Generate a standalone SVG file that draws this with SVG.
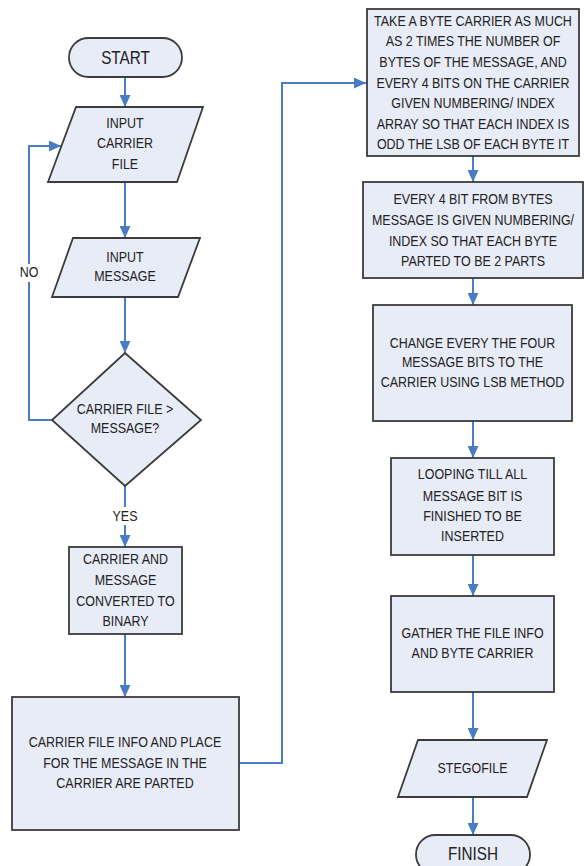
<svg xmlns="http://www.w3.org/2000/svg" width="584" height="866" viewBox="0 0 584 866">
  <defs>
    <style>
      .shape { fill: #e8ecf7; stroke: #3c3c3c; stroke-width: 1.8; }
      .conn { fill: none; stroke: #4a7cc4; stroke-width: 2; }
      .t { font-family: "Liberation Sans", Arial, sans-serif; font-size: 14px; fill: #222; text-anchor: middle; }
      .big { font-size: 18px; }
      .lbl-bg { fill: #ffffff; }
    </style>
    <marker id="arrow" markerUnits="userSpaceOnUse" markerWidth="12" markerHeight="11" refX="12" refY="5.5" orient="auto">
      <path d="M0,0 L12,5.5 L0,11 z" fill="#4a7cc4"/>
    </marker>
  </defs>

  <rect width="584" height="866" fill="#ffffff"/>

  <!-- connectors -->
  <g id="connectors">
    <line class="conn" x1="125" y1="77" x2="125" y2="107" marker-end="url(#arrow)"/>
    <line class="conn" x1="125" y1="182" x2="125" y2="238" marker-end="url(#arrow)"/>
    <line class="conn" x1="125" y1="297" x2="125" y2="353" marker-end="url(#arrow)"/>
    <polyline class="conn" points="52,420 29,420 29,146 61,146" marker-end="url(#arrow)"/>
    <line class="conn" x1="125" y1="486" x2="125" y2="547" marker-end="url(#arrow)"/>
    <line class="conn" x1="125" y1="634" x2="125" y2="697" marker-end="url(#arrow)"/>
    <polyline class="conn" points="239,763 282,763 282,83 366,83" marker-end="url(#arrow)"/>
    <line class="conn" x1="473" y1="156" x2="473" y2="182" marker-end="url(#arrow)"/>
    <line class="conn" x1="473" y1="278" x2="473" y2="305" marker-end="url(#arrow)"/>
    <line class="conn" x1="473" y1="421" x2="473" y2="458" marker-end="url(#arrow)"/>
    <line class="conn" x1="473" y1="555" x2="473" y2="596" marker-end="url(#arrow)"/>
    <line class="conn" x1="473" y1="692" x2="473" y2="740" marker-end="url(#arrow)"/>
    <line class="conn" x1="473" y1="797" x2="473" y2="835" marker-end="url(#arrow)"/>
    <!-- branch labels -->
    <rect class="lbl-bg" x="18" y="264" width="22" height="18"/>
    <g transform="translate(29 0) scale(0.89 1)"><text class="t" x="0" y="277">NO</text></g>
    <rect class="lbl-bg" x="110" y="507" width="30" height="18"/>
    <g transform="translate(125 0) scale(0.89 1)"><text class="t" x="0" y="521">YES</text></g>
  </g>

  <g id="start">
    <rect class="shape" x="69" y="38" width="113" height="39" rx="19.5"/>
    <g transform="translate(125.5 0) scale(0.85 1)"><text class="t big" x="0" y="64">START</text></g>
  </g>

  <g id="input-carrier">
    <polygon class="shape" points="76,107 203,107 177,182 48,182"/>
    <g transform="translate(125 0) scale(0.89 1)">
      <text class="t"><tspan x="0" y="128">INPUT</tspan><tspan x="0" y="148">CARRIER</tspan><tspan x="0" y="169">FILE</tspan></text>
    </g>
  </g>

  <g id="input-message">
    <polygon class="shape" points="73,238 200,238 178,297 52,297"/>
    <g transform="translate(125 0) scale(0.89 1)">
      <text class="t"><tspan x="0" y="262">INPUT</tspan><tspan x="0" y="281">MESSAGE</tspan></text>
    </g>
  </g>

  <g id="decision">
    <polygon class="shape" points="125,353 201,420 125,486 52,420"/>
    <g transform="translate(125 0) scale(0.89 1)">
      <text class="t"><tspan x="0" y="414">CARRIER FILE &gt;</tspan><tspan x="0" y="433">MESSAGE?</tspan></text>
    </g>
  </g>

  <g id="convert">
    <rect class="shape" x="69" y="547" width="113" height="87"/>
    <g transform="translate(125.5 0) scale(0.89 1)">
      <text class="t"><tspan x="0" y="564">CARRIER AND</tspan><tspan x="0" y="585">MESSAGE</tspan><tspan x="0" y="606">CONVERTED TO</tspan><tspan x="0" y="626">BINARY</tspan></text>
    </g>
  </g>

  <g id="partition">
    <rect class="shape" x="12" y="697" width="227" height="133"/>
    <g transform="translate(125 0) scale(0.89 1)">
      <text class="t"><tspan x="0" y="747">CARRIER FILE INFO AND PLACE</tspan><tspan x="0" y="768">FOR THE MESSAGE IN THE</tspan><tspan x="0" y="788">CARRIER ARE PARTED</tspan></text>
    </g>
  </g>

  <g id="take-carrier">
    <rect class="shape" x="367" y="9" width="212" height="147"/>
    <g transform="translate(473 0) scale(0.89 1)">
      <text class="t"><tspan x="0" y="26">TAKE A BYTE CARRIER AS MUCH</tspan><tspan x="0" y="46">AS 2 TIMES THE NUMBER OF</tspan><tspan x="0" y="67">BYTES OF THE MESSAGE, AND</tspan><tspan x="0" y="88">EVERY 4 BITS ON THE CARRIER</tspan><tspan x="0" y="108">GIVEN NUMBERING/ INDEX</tspan><tspan x="0" y="129">ARRAY SO THAT EACH INDEX IS</tspan><tspan x="0" y="149">ODD THE LSB OF EACH BYTE IT</tspan></text>
    </g>
  </g>

  <g id="index-message">
    <rect class="shape" x="363" y="182" width="220" height="96"/>
    <g transform="translate(473 0) scale(0.89 1)">
      <text class="t"><tspan x="0" y="204">EVERY 4 BIT FROM BYTES</tspan><tspan x="0" y="225">MESSAGE IS GIVEN NUMBERING/</tspan><tspan x="0" y="246">INDEX SO THAT EACH BYTE</tspan><tspan x="0" y="266">PARTED TO BE 2 PARTS</tspan></text>
    </g>
  </g>

  <g id="lsb-change">
    <rect class="shape" x="373" y="305" width="199" height="116"/>
    <g transform="translate(472.5 0) scale(0.89 1)">
      <text class="t"><tspan x="0" y="348">CHANGE EVERY THE FOUR</tspan><tspan x="0" y="367">MESSAGE BITS TO THE</tspan><tspan x="0" y="387">CARRIER USING LSB METHOD</tspan></text>
    </g>
  </g>

  <g id="loop">
    <rect class="shape" x="391" y="458" width="163" height="97"/>
    <g transform="translate(472.5 0) scale(0.89 1)">
      <text class="t"><tspan x="0" y="479">LOOPING TILL ALL</tspan><tspan x="0" y="501">MESSAGE BIT IS</tspan><tspan x="0" y="521">FINISHED TO BE</tspan><tspan x="0" y="541">INSERTED</tspan></text>
    </g>
  </g>

  <g id="gather">
    <rect class="shape" x="391" y="596" width="163" height="96"/>
    <g transform="translate(472.5 0) scale(0.89 1)">
      <text class="t"><tspan x="0" y="638">GATHER THE FILE INFO</tspan><tspan x="0" y="658">AND BYTE CARRIER</tspan></text>
    </g>
  </g>

  <g id="stegofile">
    <polygon class="shape" points="418,740 547,740 527,797 398,797"/>
    <g transform="translate(472.5 0) scale(0.89 1)"><text class="t" x="0" y="773">STEGOFILE</text></g>
  </g>

  <g id="finish">
    <rect class="shape" x="416" y="835" width="114" height="39" rx="19.5"/>
    <g transform="translate(473 0) scale(0.85 1)"><text class="t big" x="0" y="860">FINISH</text></g>
  </g>
</svg>
